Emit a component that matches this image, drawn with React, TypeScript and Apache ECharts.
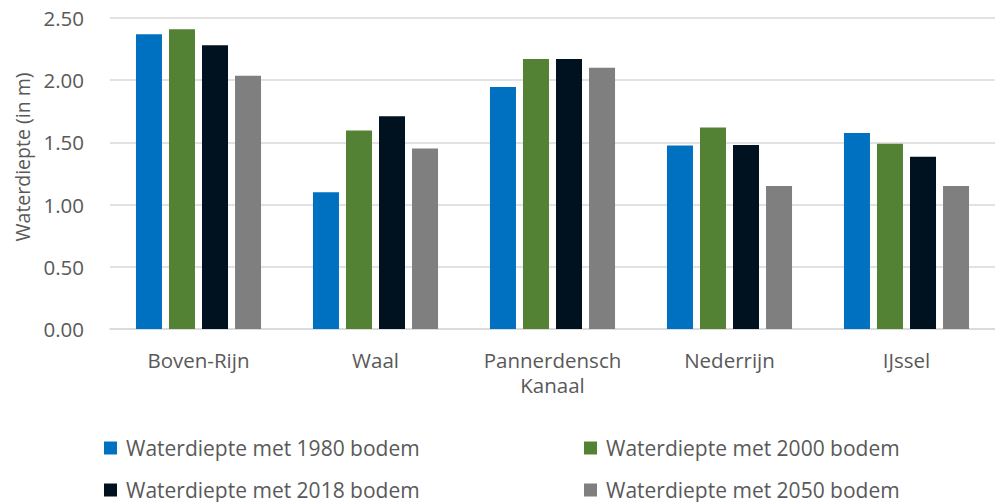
import React, { useEffect, useRef } from "react";
import * as echarts from "echarts";

const categories = ["Boven-Rijn", "Waal", "Pannerdensch\nKanaal", "Nederrijn", "IJssel"];
const seriesNames = [
  "Waterdiepte met 1980 bodem",
  "Waterdiepte met 2000 bodem",
  "Waterdiepte met 2018 bodem",
  "Waterdiepte met 2050 bodem",
];
const values1980 = [2.37, 1.1, 1.945, 1.475, 1.575];
const values2000 = [2.41, 1.595, 2.17, 1.62, 1.49];
const values2018 = [2.28, 1.71, 2.17, 1.48, 1.385];
const values2050 = [2.035, 1.45, 2.1, 1.15, 1.15];
const colors = ["#0070C0", "#548235", "#00111F", "#7F7F7F"];
const yAxisTitle = "Waterdiepte (in m)";

const FONT = "'Open Sans', sans-serif";
const TEXT = "#595959";

export default function App() {
  const ref = useRef<HTMLDivElement>(null);
  useEffect(() => {
    if (!ref.current) return;
    const chart = echarts.init(ref.current, null, { renderer: "svg" });
    const data = [values1980, values2000, values2018, values2050];
    const legendPos = [
      { left: 104, top: 437 },
      { left: 584, top: 437 },
      { left: 104, top: 479 },
      { left: 584, top: 479 },
    ];
    chart.setOption({
      animation: false,
      textStyle: { fontFamily: FONT },
      grid: { left: 110, width: 898, top: 18, bottom: 173, containLabel: false },
      legend: seriesNames.map((n, i) => ({
        data: [n],
        left: legendPos[i].left,
        top: legendPos[i].top,
        padding: 0,
        itemWidth: 13,
        itemHeight: 13,
        icon: "rect",
        textStyle: { fontSize: 21, lineHeight: 22, color: TEXT, fontFamily: FONT, padding: [0, 0, 0, 4] },
      })),
      graphic: [
        {
          type: "text",
          x: 22,
          y: 157,
          rotation: Math.PI / 2,
          style: {
            text: yAxisTitle,
            fill: TEXT,
            fontSize: 19.5,
            fontFamily: FONT,
            textAlign: "center",
            textVerticalAlign: "middle",
          },
        },
      ],
      xAxis: {
        type: "category",
        data: categories,
        axisLine: { lineStyle: { color: "#D9D9D9", width: 1.5 } },
        axisTick: { show: false },
        axisLabel: {
          interval: 0,
          hideOverlap: false,
          color: TEXT,
          fontSize: 20.5,
          lineHeight: 25,
          margin: 18,
          fontFamily: FONT,
        },
      },
      yAxis: {
        type: "value",
        min: 0,
        max: 2.5,
        interval: 0.5,
        axisLabel: {
          color: TEXT,
          fontSize: 20.5,
          margin: 26,
          fontFamily: FONT,
          formatter: (v: number) => v.toFixed(2),
        },
        splitLine: { lineStyle: { color: "#D9D9D9", width: 1.5 } },
        axisLine: { show: false },
        axisTick: { show: false },
      },
      series: seriesNames.map((name, i) => ({
        name,
        type: "bar",
        data: data[i],
        barWidth: 26,
        barGap: "27%",
        itemStyle: { color: colors[i] },
      })),
    });
    return () => chart.dispose();
  }, []);
  return <div ref={ref} style={{ width: 995, height: 502, position: "absolute", left: 0, top: 0 }} />;
}
